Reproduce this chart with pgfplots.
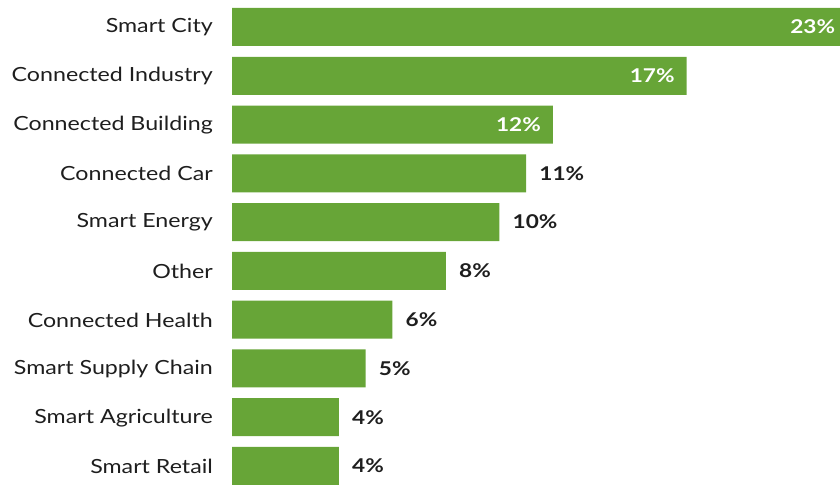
\documentclass[border=0pt]{standalone}
\usepackage{pgfplots}
\pgfplotsset{compat=1.18}
\usepackage{fontspec}
\setmainfont{Lato}[FakeStretch=1.19]
\definecolor{bargreen}{RGB}{103,165,55}
\definecolor{labeltext}{RGB}{30,30,30}
\begin{document}
\begin{tikzpicture}
\begin{axis}[
  at={(232pt,0pt)}, anchor=south west,
  scale only axis,
  width=608pt, height=485pt,
  xbar, bar width=38pt, bar shift=0pt,
  xmin=0, xmax=22.73,
  ymin=-0.553, ymax=9.39,
  y dir=reverse,
  clip=false,
  hide x axis,
  y axis line style={draw=none},
  ytick={0,...,9},
  yticklabels={Smart City,Connected Industry,Connected Building,Connected Car,Smart Energy,Other,Connected Health,Smart Supply Chain,Smart Agriculture,Smart Retail},
  yticklabel style={font=\fontsize{19.5}{22}\selectfont, text=labeltext, anchor=east, inner sep=0pt, xshift=-19pt, yshift=-0.5pt},
  major tick length=0pt,
  nodes near coords={\pgfmathprintnumber[assume math mode=true]{\pgfplotspointmeta}\%},
  point meta=x,
]
% shares large enough to carry their label inside the bar
\addplot[fill=bargreen, draw=none,
  nodes near coords style={font=\bfseries\fontsize{19}{22}\selectfont, text=white, anchor=east, inner sep=0pt, xshift=-12pt}]
  coordinates {(23,0) (17,1) (12,2)};
% remaining shares, labelled beside the bar
\addplot[fill=bargreen, draw=none,
  nodes near coords style={font=\bfseries\fontsize{19}{22}\selectfont, text=labeltext, anchor=west, inner sep=0pt, xshift=13pt}]
  coordinates {(11,3) (10,4) (8,5) (6,6) (5,7) (4,8) (4,9)};
\end{axis}
\pgfresetboundingbox
\path[use as bounding box] (0,0) rectangle (840pt,485pt);
\end{tikzpicture}
\end{document}
